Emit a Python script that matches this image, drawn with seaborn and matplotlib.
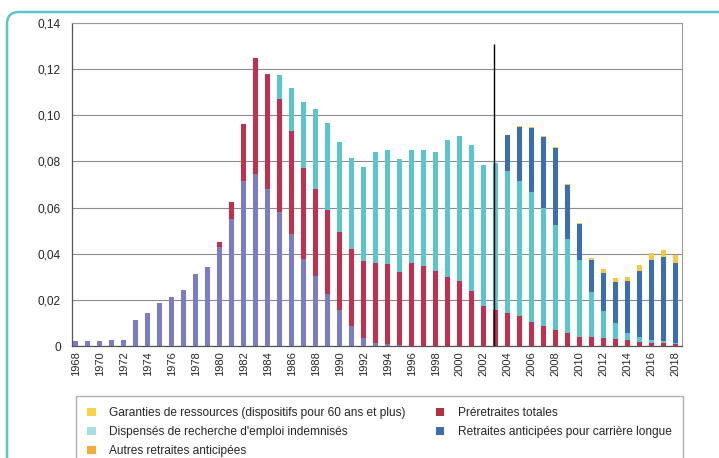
import numpy as np
import pandas as pd
import matplotlib
matplotlib.use("Agg")
import matplotlib.pyplot as plt
from matplotlib.patches import Patch, FancyBboxPatch
from matplotlib.transforms import IdentityTransform
import seaborn as sns

# Data (share of population, 1968-2018)
years = list(range(1968, 2019))

garanties = [0.0023, 0.0023, 0.0023, 0.0025, 0.0028, 0.0113, 0.0145, 0.0185, 0.0211, 0.0243,
             0.0312, 0.0344, 0.0428, 0.0550, 0.0714, 0.0747, 0.0680, 0.0583, 0.0484, 0.0377,
             0.0302, 0.0227, 0.0155, 0.0088, 0.0036, 0.0014, 0.0009, 0.0004, 0.0002] + [0.0] * 22

preretraites = [0.0] * 12 + [0.0021, 0.0074, 0.0248, 0.0500, 0.0497, 0.0486, 0.0448, 0.0396,
                             0.0377, 0.0363, 0.0338, 0.0331, 0.0331, 0.0347, 0.0346, 0.0318,
                             0.0359, 0.0347, 0.0324, 0.0301, 0.0283, 0.0237, 0.0173, 0.0156,
                             0.0144, 0.0130, 0.0105, 0.0086, 0.0069, 0.0055, 0.0040, 0.0038,
                             0.0033, 0.0029, 0.0026, 0.0019, 0.0015, 0.0013, 0.0009]

dispenses = [0.0] * 17 + [0.0104, 0.0188, 0.0285, 0.0350, 0.0378, 0.0393, 0.0394, 0.0409,
                          0.0479, 0.0496, 0.0488, 0.0489, 0.0501, 0.0517, 0.0592, 0.0629,
                          0.0633, 0.0612, 0.0636, 0.0616, 0.0585, 0.0561, 0.0511, 0.0455,
                          0.0409, 0.0331, 0.0197, 0.0120, 0.0072, 0.0030, 0.0021, 0.0011,
                          0.0007, 0.0005]

carriere_longue = [0.0] * 36 + [0.0153, 0.0236, 0.0280, 0.0310, 0.0334, 0.0233, 0.0158, 0.0139,
                                0.0165, 0.0178, 0.0224, 0.0286, 0.0347, 0.0367, 0.0344]

autres = [0.0] * 36 + [0.0003, 0.0004, 0.0005, 0.0005, 0.0005, 0.0005, 0.0005, 0.0008,
                       0.0014, 0.0014, 0.0019, 0.0025, 0.0029, 0.0029, 0.0036]

legend_labels = ["Garanties de ressources (dispositifs pour 60 ans et plus)",
                 "Dispensés de recherche d'emploi indemnisés",
                 "Autres retraites anticipées",
                 "Préretraites totales",
                 "Retraites anticipées pour carrière longue"]

sns.set_style("white")
plt.rcParams['font.family'] = ['Liberation Sans', 'DejaVu Sans']

df = pd.DataFrame({"annee": [str(y) for y in years],
                   "garanties": garanties,
                   "preretraites": preretraites,
                   "dispenses": dispenses,
                   "carriere_longue": carriere_longue,
                   "autres": autres})
series = ["garanties", "preretraites", "dispenses", "carriere_longue", "autres"]
cum = df[series].cumsum(axis=1)

bar_colors = {"garanties": "#7a7dc6", "preretraites": "#c22f4f", "dispenses": "#5cc5cc",
              "carriere_longue": "#3a6db2", "autres": "#f6c744"}

fig = plt.figure(figsize=(7.19, 4.58), dpi=100)
ax = fig.add_axes([0.1001, 0.2445, 0.8484, 0.7053])

# stacked bars: draw cumulative totals from the top layer down
for name in reversed(series):
    sns.barplot(x=df["annee"], y=cum[name], color=bar_colors[name], width=0.42,
                saturation=1, errorbar=None, linewidth=0, ax=ax)

# reform marker line
ax.vlines(34.9, 0, 0.131, color="black", lw=1.0, zorder=5)

ax.set_xlim(-0.33, 50.55)
ax.set_ylim(0, 0.14)
yt = np.arange(0, 0.141, 0.02)
ax.set_yticks(yt)
ax.set_yticklabels(["0" if v == 0 else f"{v:.2f}".replace(".", ",") for v in yt], fontsize=8.6)
ax.set_xticks(range(0, len(years), 2))
ax.set_xticklabels([str(y) for y in years[::2]], rotation=90, fontsize=8)
ax.set_xticks(np.arange(0.5, len(years), 1), minor=True)
ax.tick_params(axis="x", which="major", length=0, pad=4)
ax.tick_params(axis="x", which="minor", length=4, width=0.7, color="#666666", direction="out")
ax.tick_params(axis="y", length=3, width=0.7, color="#666666", direction="out", pad=5)
ax.set_xlabel("")
ax.set_ylabel("")

ax.yaxis.grid(True, color="#8c8c8c", lw=0.8)
ax.set_axisbelow(True)
for side in ["top", "right"]:
    ax.spines[side].set_color("#9a9a9a")
    ax.spines[side].set_linewidth(0.8)
for side in ["left", "bottom"]:
    ax.spines[side].set_color("#555555")
    ax.spines[side].set_linewidth(0.9)

legend_colors = ["#f9d24c", "#a8dfe2", "#f7a93c", "#b5303e", "#3f6cab"]
handles = [Patch(facecolor=c, edgecolor="none") for c in legend_colors]
fig.legend(handles, legend_labels, loc="upper left", ncol=2, mode="expand",
           bbox_to_anchor=(0.1057, 0.0, 0.844, 0.1354), borderaxespad=0,
           fontsize=8.6, frameon=True, fancybox=False, edgecolor="#9a9a9a",
           handlelength=0.7, handleheight=0.7, handletextpad=1.1,
           labelspacing=0.58, borderpad=0.95)

# rounded teal frame around the whole figure
frame = FancyBboxPatch((7, -40), 780, 486, boxstyle="round,pad=0,rounding_size=12",
                       transform=IdentityTransform(), facecolor="none",
                       edgecolor="#5bc4c9", lw=1.8)
fig.patches.append(frame)

fig.savefig("out.png", dpi=100)
